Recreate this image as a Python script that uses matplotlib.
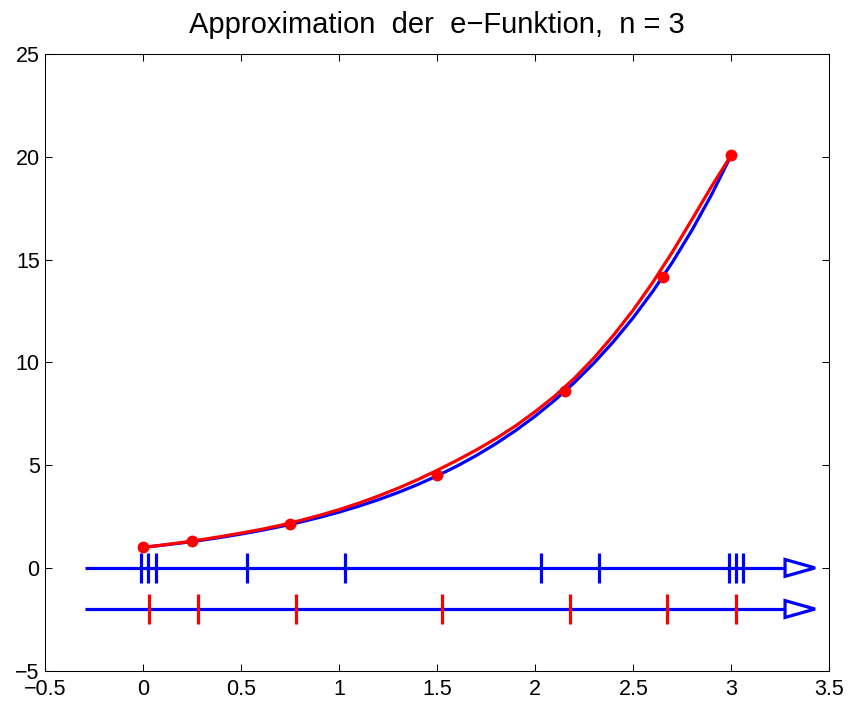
import matplotlib
matplotlib.use("Agg")
import matplotlib.pyplot as plt

# Curves (x step 0.1)
X_CURVE = [0.0, 0.1, 0.2, 0.3, 0.4, 0.5, 0.6, 0.7, 0.8, 0.9, 1.0,
           1.1, 1.2, 1.3, 1.4, 1.5, 1.6, 1.7, 1.8, 1.9, 2.0,
           2.1, 2.2, 2.3, 2.4, 2.5, 2.6, 2.7, 2.8, 2.9, 3.0]
EXP_VALUES = [1.000, 1.105, 1.221, 1.350, 1.492, 1.649, 1.822, 2.014, 2.226, 2.460, 2.718,
              3.004, 3.320, 3.669, 4.055, 4.482, 4.953, 5.474, 6.050, 6.686, 7.389,
              8.166, 9.025, 9.974, 11.023, 12.182, 13.464, 14.880, 16.445, 18.174, 20.086]
APPROX_VALUES = [1.000, 1.115, 1.241, 1.380, 1.532, 1.699, 1.872, 2.074, 2.306, 2.560, 2.838,
                 3.154, 3.500, 3.879, 4.295, 4.752, 5.233, 5.744, 6.300, 6.916, 7.609,
                 8.366, 9.235, 10.224, 11.333, 12.552, 13.904, 15.380, 16.965, 18.574, 20.086]

# Red interpolation points
NODES_X = [0.0, 0.25, 0.75, 1.5, 2.15, 2.65, 3.0]
NODES_Y = [1.0, 1.30, 2.15, 4.50, 8.60, 14.15, 20.09]

# Marks on the two number lines
BLUE_MARKS = [-0.012, 0.022, 0.066, 0.527, 1.029, 2.027, 2.325, 2.988, 3.022, 3.061]
RED_MARKS = [0.029, 0.278, 0.778, 1.526, 2.177, 2.673, 3.024]
BLUE_LINE_Y = 0.0
RED_LINE_Y = -2.0

TITLE = "Approximation  der  e\u2212Funktion,  n = 3"
X_TICKS = [-0.5, 0, 0.5, 1, 1.5, 2, 2.5, 3, 3.5]
X_TICK_LABELS = ["\u22120.5", "0", "0.5", "1", "1.5", "2", "2.5", "3", "3.5"]
Y_TICKS = [-5, 0, 5, 10, 15, 20, 25]
Y_TICK_LABELS = ["\u22125", "0", "5", "10", "15", "20", "25"]

# number line geometry
LINE_START = -0.3
ARROW_BASE = 3.274
ARROW_TIP = 3.427
ARROW_HALF = 0.41
MARK_HALF = 0.73

plt.rcParams['font.family'] = ['Liberation Sans', 'DejaVu Sans']

fig = plt.figure(figsize=(8.5, 7.06), dpi=100)
ax = fig.add_axes([0.0533, 0.05, 0.9224, 0.8735])

BLUE = (0, 0, 1)
RED = (1, 0, 0)
LW = 2.3

# number lines with open arrow heads
for y0 in (BLUE_LINE_Y, RED_LINE_Y):
    ax.plot([LINE_START, ARROW_BASE], [y0, y0], color=BLUE, lw=LW, solid_capstyle='butt', zorder=2)
    ax.fill([ARROW_BASE, ARROW_TIP, ARROW_BASE], [y0 + ARROW_HALF, y0, y0 - ARROW_HALF],
            facecolor='white', edgecolor=BLUE, lw=LW, joinstyle='miter', zorder=2)

ax.vlines(BLUE_MARKS, BLUE_LINE_Y - MARK_HALF, BLUE_LINE_Y + MARK_HALF, color=BLUE, lw=LW, zorder=3)
ax.vlines(RED_MARKS, RED_LINE_Y - MARK_HALF, RED_LINE_Y + MARK_HALF, color=RED, lw=LW, zorder=3)

# curves
ax.plot(X_CURVE, EXP_VALUES, color=BLUE, lw=LW, zorder=4)
ax.plot(X_CURVE, APPROX_VALUES, color=RED, lw=LW, zorder=5)
ax.plot(NODES_X, NODES_Y, 'o', color=RED, ms=7.5, mec=RED, zorder=6)

ax.set_xlim(-0.5, 3.5)
ax.set_ylim(-5, 25)
ax.set_xticks(X_TICKS)
ax.set_xticklabels(X_TICK_LABELS)
ax.set_yticks(Y_TICKS)
ax.set_yticklabels(Y_TICK_LABELS)
ax.tick_params(direction='in', length=5, width=0.75, top=True, right=True, labelsize=15.5)
ax.tick_params(axis='x', pad=6)
ax.tick_params(axis='y', pad=4)
for s in ax.spines.values():
    s.set_linewidth(0.75)

ax.set_title(TITLE, fontsize=21, pad=15)

plt.savefig("out.png", dpi=100)
